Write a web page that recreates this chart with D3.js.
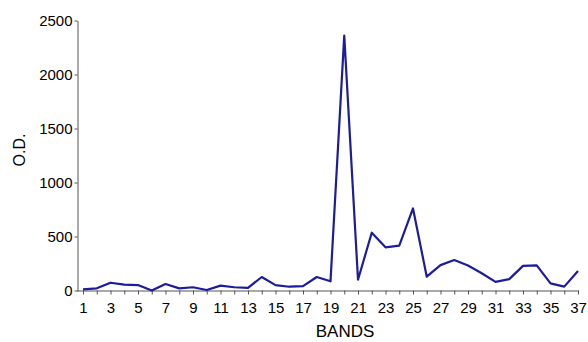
<!DOCTYPE html>
<html>
<head>
<meta charset="utf-8">
<script src="https://cdn.jsdelivr.net/npm/d3@7"></script>
<style>
  body { margin: 0; background: #fff; }
  svg text { font-family: "Liberation Sans", Arial, sans-serif; fill: #000; }
  .axis path, .axis line { stroke: #555; }
</style>
</head>
<body>
<svg id="canvas" width="588" height="342"></svg>
<script>
// ************************************************************************************** //
// Data

var bands = d3.range(1, 38);
var od_values = [10, 20, 72, 55, 50, 0, 60, 20, 30, 5,
                 45, 30, 25, 125, 50, 35, 40, 125, 85, 2360,
                 100, 535, 400, 415, 760, 128, 235, 282, 232, 160,
                 80, 105, 228, 233, 66, 36, 180];
var y_ticks = [0, 500, 1000, 1500, 2000, 2500];

// ************************************************************************************** //
// Scales and axes

var svg = d3.select('#canvas');
var x = d3.scaleLinear().domain([1, 37]).range([83, 578]);
var y = d3.scaleLinear().domain([0, 2500]).range([290.5, 20.5]);

var x_axis = d3.axisBottom(x).tickValues(bands).tickSize(4).tickSizeOuter(0)
  .tickFormat(function(d){ return d % 2 == 1 ? d : ''; });
var gx = svg.append('g').attr('class', 'axis').attr('transform', 'translate(0,290.5)').call(x_axis);
gx.select('.domain').attr('d', 'M77,0.5H579');
gx.selectAll('text').style('font-size', '15px').attr('dy', '1em');

var y_axis = d3.axisLeft(y).tickValues(y_ticks).tickSize(3).tickSizeOuter(0).tickFormat(d3.format('d'));
var gy = svg.append('g').attr('class', 'axis').attr('transform', 'translate(77.5,0)').call(y_axis);
gy.selectAll('text').style('font-size', '15px').attr('x', -5).attr('dy', '0.36em');

// ************************************************************************************** //
// Line

var line = d3.line()
  .x(function(d, i){ return x(bands[i]); })
  .y(function(d){ return y(d); });

svg.append('path').datum(od_values)
  .attr('d', line)
  .attr('fill', 'none')
  .attr('stroke', '#1c1c9c')
  .attr('stroke-width', 2.2)
  .attr('stroke-linejoin', 'round');

// ************************************************************************************** //
// Titles

svg.append('text').attr('transform', 'translate(25,150) rotate(-90)')
  .attr('text-anchor', 'middle').style('font-size', '16px').text('O.D.');
svg.append('text').attr('x', 345).attr('y', 337)
  .attr('text-anchor', 'middle').style('font-size', '17px').text('BANDS');
</script>
</body>
</html>
